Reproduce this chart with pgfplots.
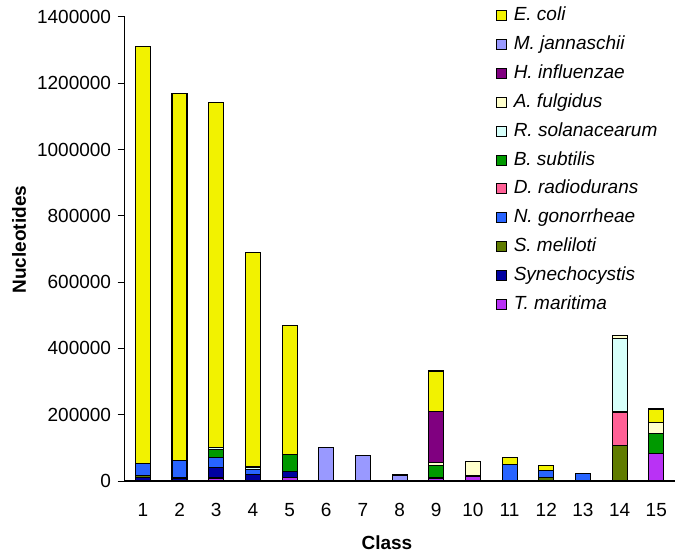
\documentclass[border=0pt]{standalone}
\usepackage{pgfplots}
\pgfplotsset{compat=1.18}
\usepackage{pgfplotstable}
\usepackage{fontspec}
\setmainfont{Liberation Sans}

\definecolor{cEc}{RGB}{242,242,0}
\definecolor{cMj}{RGB}{153,153,255}
\definecolor{cHi}{RGB}{128,0,128}
\definecolor{cAf}{RGB}{255,255,204}
\definecolor{cRs}{RGB}{214,255,250}
\definecolor{cBs}{RGB}{0,153,0}
\definecolor{cDr}{RGB}{255,96,150}
\definecolor{cNg}{RGB}{40,100,255}
\definecolor{cSm}{RGB}{96,124,0}
\definecolor{cSyn}{RGB}{0,0,160}
\definecolor{cTm}{RGB}{185,50,245}

% nucleotides per class, one column per genome (stack order bottom -> top)
\pgfplotstableread{
class Tm    Syn   Sm     Ng    Dr     Bs    Rs     Af    Hi     Mj     Ec
1     0     11000 5000   37000 0      0     0      0     0      0      1257000
2     0     9000  0      53000 0      0     0      0     0      0      1108000
3     9000  32000 0      30000 0      25000 5000   0     0      0      1042000
4     0     20000 0      15000 0      0     7000   0     0      0      648000
5     11000 18000 0      0     0      52000 0      0     0      0      387000
6     0     0     0      0     0      0     0      0     0      102000 0
7     0     0     0      0     0      0     0      0     0      78000  0
8     0     0     0      0     0      0     0      0     0      18000  0
9     9000  0     0      0     0      38000 0      9000  153000 0      123000
10    15000 0     0      0     0      0     0      43000 0      0      0
11    0     0     0      50000 0      0     0      0     0      0      22000
12    0     0     10000  22000 0      0     0      0     0      0      15000
13    0     0     0      22000 0      0     0      0     0      0      0
14    0     0     108000 0     100000 0     223000 8000  0      0      0
15    82000 0     0      0     0      62000 0      33000 0      0      40000
}\classdata

\begin{document}
\fontsize{19bp}{22bp}\selectfont
\begin{tikzpicture}
\begin{axis}[
  scale only axis,
  width=550bp, height=464bp,
  ybar stacked, bar width=15bp,
  xmin=0.5, xmax=15.5,
  ymin=0, ymax=1400000,
  xtick={1,...,15},
  ytick={0,200000,...,1400000},
  scaled y ticks=false,
  /pgf/number format/.cd, fixed, set thousands separator={}, assume math mode=true, /pgfplots/.cd,
  axis x line*=bottom, axis y line*=left,
  axis line style={black, line width=1.2bp},
  tick align=outside, major tick length=7bp,
  ytick style={black, line width=1bp},
  xtick style={draw=none},
  tick label style={font=\fontsize{19bp}{22bp}\selectfont},
  xticklabel style={yshift=-9bp},
  xlabel={Class}, ylabel={Nucleotides},
  label style={font=\bfseries\fontsize{19bp}{22bp}\selectfont},
  xlabel style={at={(axis description cs:0.477,-0.1336)}, anchor=center},
  ylabel style={at={(axis description cs:-0.192,0.52)}, anchor=center},
  every axis plot post/.append style={
    legend image code/.code={\draw[#1, line width=1bp] (0bp,-5bp) rectangle (10bp,5bp);}},
  reverse legend,
  legend cell align=left,
  legend style={draw=none, fill=none, inner sep=0pt,
    at={(axis description cs:0.6745,0.6918)}, anchor=west,
    font=\itshape\fontsize{19bp}{22bp}\selectfont,
    row sep=6.9bp,
    /tikz/every odd column/.append style={column sep=5bp},
    nodes={inner sep=2bp, text height=14bp, text depth=4bp}},
]
\addplot[fill=cTm,  draw=black, line width=1.2bp] table[x=class,y=Tm]  {\classdata};
\addplot[fill=cSyn, draw=black, line width=1.2bp] table[x=class,y=Syn] {\classdata};
\addplot[fill=cSm,  draw=black, line width=1.2bp] table[x=class,y=Sm]  {\classdata};
\addplot[fill=cNg,  draw=black, line width=1.2bp] table[x=class,y=Ng]  {\classdata};
\addplot[fill=cDr,  draw=black, line width=1.2bp] table[x=class,y=Dr]  {\classdata};
\addplot[fill=cBs,  draw=black, line width=1.2bp] table[x=class,y=Bs]  {\classdata};
\addplot[fill=cRs,  draw=black, line width=1.2bp] table[x=class,y=Rs]  {\classdata};
\addplot[fill=cAf,  draw=black, line width=1.2bp] table[x=class,y=Af]  {\classdata};
\addplot[fill=cHi,  draw=black, line width=1.2bp] table[x=class,y=Hi]  {\classdata};
\addplot[fill=cMj,  draw=black, line width=1.2bp] table[x=class,y=Mj]  {\classdata};
\addplot[fill=cEc,  draw=black, line width=1.2bp] table[x=class,y=Ec]  {\classdata};
\legend{T. maritima, Synechocystis, S. meliloti, N. gonorrheae, D. radiodurans,
  B. subtilis, R. solanacearum, A. fulgidus, H. influenzae, M. jannaschii, E. coli}
\end{axis}
\pgfresetboundingbox
\path (-124.6bp,-72bp) rectangle (550.4bp,481bp);
\end{tikzpicture}
\end{document}
